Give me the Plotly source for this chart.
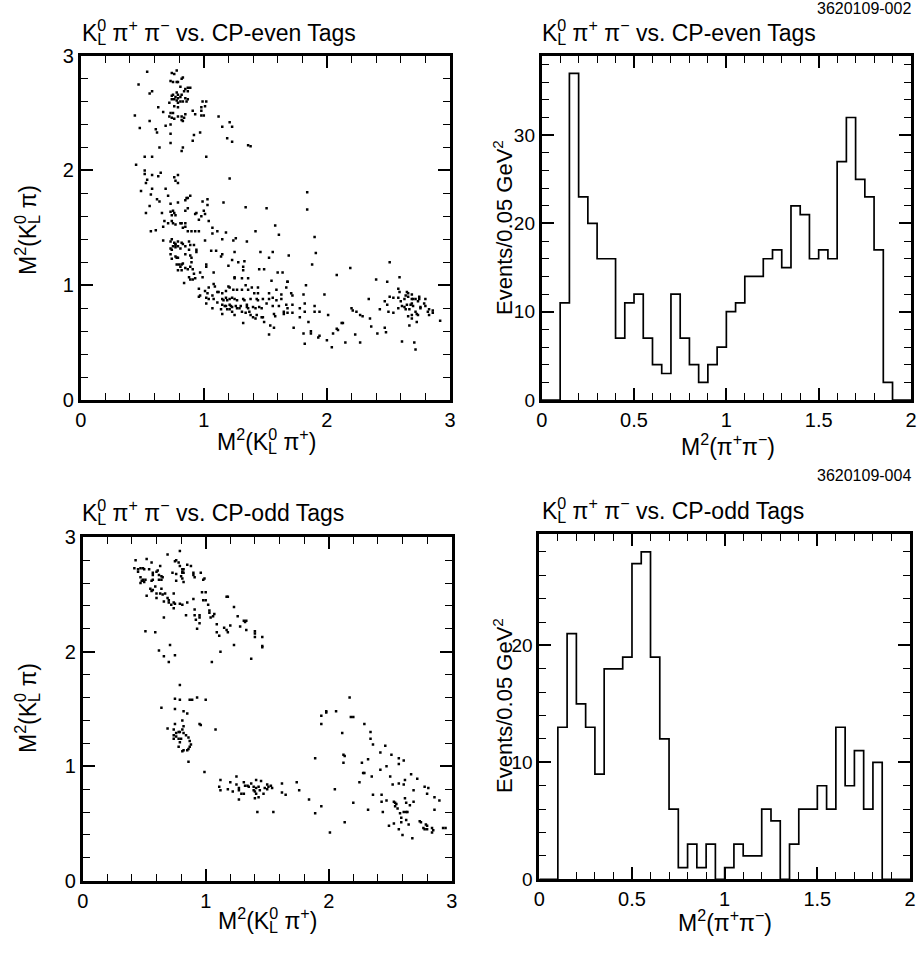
import plotly.graph_objects as go

# ---------------- data ----------------
# Histogram bins: 0.05 GeV^2 wide, from 0 to 2
bin_width = 0.05
even_counts = [0, 0, 11, 37, 23, 20, 16, 16, 7, 11, 12, 7, 4, 3, 12, 7, 4, 2, 4, 6,
               10, 11, 14, 14, 16, 17, 15, 22, 21, 16, 17, 16, 27, 32, 25, 23, 17, 2, 0, 0]
odd_counts = [0, 0, 13, 21, 15, 13, 9, 18, 18, 19, 27, 28, 19, 12, 6, 1, 3, 1, 3, 0,
              1, 3, 2, 2, 6, 5, 0, 3, 6, 6, 8, 6, 13, 8, 11, 6, 10, 0, 0, 0]

even_dalitz_x = [
 0.54,0.47,0.74,0.76,0.78,0.73,0.75,0.78,0.79,0.82,0.83,0.81,0.85,0.87,0.89,0.87,0.84,0.58,0.56,0.78,
 0.79,0.75,0.74,0.77,0.81,0.82,0.79,0.76,0.74,0.85,0.87,0.86,0.83,0.81,0.78,0.79,0.63,0.72,0.76,0.79,
 0.67,0.99,1.02,1.01,0.98,0.73,0.75,0.72,0.74,0.76,0.79,0.82,0.84,0.82,0.83,0.85,0.91,0.93,0.98,0.98,
 1.00,0.44,0.56,0.48,0.61,0.62,0.69,0.73,0.73,0.92,0.91,0.97,1.12,1.15,1.21,1.23,1.19,1.23,1.36,1.38,
 0.73,0.64,0.83,0.82,1.02,0.52,0.58,0.45,1.21,0.52,0.52,0.58,0.63,0.65,0.54,0.53,0.76,0.79,0.77,0.79,
 0.49,0.58,0.57,0.69,0.71,0.62,0.64,0.73,0.79,0.56,0.53,0.86,0.87,0.89,0.85,0.87,0.85,0.99,1.03,1.03,
 1.00,1.16,1.34,0.66,0.73,0.75,0.76,0.74,0.77,0.94,0.93,0.98,1.01,0.96,0.68,0.71,0.74,0.75,0.77,0.81,
 0.82,0.85,0.85,0.83,0.87,0.57,0.61,0.67,0.90,0.93,0.96,0.67,0.74,0.73,0.76,0.77,0.79,0.82,0.83,0.77,
 0.75,0.73,0.74,0.77,0.79,0.81,0.85,0.88,0.89,0.92,0.88,0.94,0.94,0.73,0.74,0.77,0.78,0.79,0.85,0.89,
 0.90,0.78,0.80,0.82,0.83,0.81,0.82,0.85,0.87,0.89,0.79,0.88,0.89,0.91,0.93,0.92,0.84,0.90,0.91,0.96,
 0.96,1.84,1.51,1.84,
 1.04,1.07,1.11,1.07,1.18,1.01,1.15,1.24,1.26,1.42,1.58,1.61,1.35,1.06,1.10,1.15,1.14,1.25,1.46,1.56,
 1.69,1.90,1.91,1.88,1.23,1.28,1.33,1.20,1.02,1.02,1.08,1.32,1.32,1.45,1.49,1.53,0.97,0.99,1.25,1.25,
 1.31,1.36,1.60,1.64,1.55,1.68,2.08,2.19,2.40,2.51,2.49,2.59,1.83,1.98,2.34,
 1.04,1.08,1.09,1.01,1.03,1.07,1.11,1.12,1.15,1.18,1.20,1.21,1.24,1.27,1.31,1.34,1.36,1.39,1.44,1.41,
 1.44,1.53,1.56,1.59,1.63,1.67,1.68,1.71,1.72,1.81,0.97,1.02,1.04,1.08,1.15,1.16,1.18,1.19,1.21,1.23,
 1.25,1.27,1.32,1.33,1.38,1.43,1.44,1.48,1.53,1.59,1.63,1.02,1.11,1.15,1.17,1.18,1.21,1.22,1.23,1.26,
 1.27,1.30,1.35,1.35,1.36,1.40,1.42,1.45,1.47,1.51,1.56,1.61,1.67,1.68,1.72,1.78,1.82,1.90,1.90,1.94,
 1.07,1.14,1.15,1.19,1.21,1.23,1.25,1.29,1.31,1.34,1.37,1.38,1.40,1.42,1.43,1.47,1.48,1.57,1.58,1.65,
 1.65,1.68,1.72,1.78,1.82,1.32,1.49,1.54,1.57,1.53,1.73,1.85,1.81,1.87,1.87,1.82,1.93,1.94,2.01,2.00,
 2.04,2.05,2.08,2.09,2.12,2.13,2.15,2.21,2.20,2.24,2.23,2.27,2.29,2.27,2.35,2.36,2.41,2.43,2.47,2.48,
 2.47,2.49,2.50,2.51,2.54,2.54,2.58,2.58,2.59,2.60,2.61,2.58,2.61,2.63,2.63,2.64,2.64,2.65,2.66,2.66,
 2.66,2.67,2.68,2.67,2.69,2.69,2.70,2.70,2.72,2.72,2.73,2.74,2.73,2.75,2.75,2.76,2.71,2.72,2.69,2.69,
 2.76,2.79,2.80,2.80,2.82,2.83,2.83,2.86,2.86,2.92,2.69,2.65,2.74]
even_dalitz_y = [
 2.86,2.75,2.85,2.84,2.87,2.78,2.77,2.77,2.77,2.80,2.81,2.73,2.71,2.72,2.72,2.69,2.69,2.69,2.67,2.68,
 2.66,2.66,2.65,2.64,2.64,2.66,2.63,2.62,2.62,2.63,2.62,2.60,2.60,2.60,2.61,2.59,2.55,2.59,2.56,2.55,
 2.51,2.60,2.60,2.56,2.55,2.50,2.50,2.47,2.46,2.45,2.47,2.47,2.46,2.44,2.43,2.49,2.52,2.49,2.52,2.48,
 2.48,2.48,2.43,2.37,2.36,2.33,2.39,2.40,2.32,2.31,2.26,2.33,2.47,2.38,2.42,2.38,2.28,2.25,2.22,2.21,
 2.24,2.20,2.20,2.17,2.12,2.12,2.12,2.05,1.93,2.00,1.97,1.96,1.95,1.98,1.92,1.89,1.94,1.96,1.91,1.89,
 1.82,1.84,1.79,1.84,1.78,1.75,1.73,1.71,1.72,1.69,1.63,1.76,1.76,1.78,1.74,1.67,1.65,1.73,1.75,1.70,
 1.65,1.72,1.68,1.63,1.64,1.65,1.63,1.61,1.61,1.63,1.62,1.60,1.62,1.57,1.56,1.54,1.56,1.54,1.53,1.54,
 1.54,1.54,1.51,1.50,1.47,1.47,1.48,1.51,1.47,1.47,1.47,1.39,1.40,1.38,1.37,1.36,1.38,1.37,1.36,1.35,
 1.34,1.32,1.31,1.33,1.34,1.32,1.34,1.38,1.35,1.35,1.31,1.31,1.29,1.27,1.23,1.25,1.24,1.24,1.27,1.26,
 1.24,1.18,1.18,1.18,1.19,1.16,1.13,1.15,1.14,1.16,1.13,1.07,1.05,1.05,1.06,1.10,1.02,1.20,1.14,0.97,
 0.90,1.81,1.67,1.66,
 1.56,1.50,1.47,1.45,1.46,1.39,1.40,1.39,1.41,1.47,1.52,1.44,1.38,1.30,1.30,1.27,1.25,1.29,1.29,1.29,
 1.26,1.42,1.28,1.18,1.22,1.20,1.21,1.17,1.18,1.16,1.11,1.16,1.13,1.14,1.14,1.24,1.11,1.07,1.06,1.07,
 1.06,1.06,1.11,1.11,1.04,1.03,1.09,1.15,1.05,1.20,1.03,1.07,1.00,0.92,0.88,
 0.98,1.01,0.99,0.95,0.93,0.91,0.94,0.94,0.93,0.95,0.99,0.98,0.96,0.96,0.96,1.00,0.96,0.98,0.98,0.93,
 0.93,0.93,0.89,0.96,0.92,0.98,1.03,0.93,0.91,0.92,0.91,0.89,0.88,0.88,0.88,0.87,0.89,0.87,0.88,0.89,
 0.88,0.87,0.88,0.87,0.88,0.88,0.87,0.88,0.88,0.87,0.88,0.84,0.85,0.83,0.82,0.82,0.83,0.82,0.81,0.82,
 0.80,0.82,0.83,0.81,0.80,0.81,0.80,0.81,0.80,0.84,0.82,0.82,0.83,0.80,0.83,0.80,0.84,0.82,0.77,0.77,
 0.80,0.79,0.75,0.79,0.79,0.77,0.74,0.80,0.77,0.76,0.77,0.74,0.72,0.71,0.74,0.72,0.72,0.75,0.73,0.77,
 0.75,0.76,0.76,0.72,0.77,0.67,0.68,0.65,0.63,0.57,0.63,0.68,0.58,0.60,0.58,0.49,0.545,0.56,0.74,0.52,
 0.46,0.58,0.62,0.61,0.67,0.67,0.50,0.78,0.80,0.77,0.57,0.74,0.73,0.50,0.71,0.64,0.58,0.79,0.63,0.59,
 0.86,0.83,0.77,0.90,0.76,0.89,0.89,0.97,0.94,0.86,0.82,0.80,0.51,0.88,0.81,0.79,0.91,0.94,0.90,0.93,
 0.73,0.65,0.83,0.79,0.92,0.88,0.88,0.82,0.88,0.77,0.75,0.74,0.68,0.88,0.90,0.81,0.50,0.44,0.71,0.74,
 0.80,0.84,0.82,0.88,0.77,0.79,0.74,0.78,0.76,0.69,0.84,0.83,0.86]

odd_dalitz_x = [
 0.43,0.52,0.42,0.45,0.47,0.49,0.50,0.45,0.56,0.54,0.57,0.60,0.61,0.63,0.57,0.62,0.64,0.65,0.47,0.49,
 0.51,0.48,0.47,0.50,0.56,0.57,0.62,0.64,0.59,0.55,0.57,0.56,0.64,0.60,0.63,0.65,0.67,0.52,0.60,0.66,
 0.69,0.70,0.70,0.72,0.74,0.74,0.69,0.79,0.75,0.76,0.78,0.79,0.81,0.82,0.81,0.81,0.82,0.85,0.88,0.73,
 0.76,0.80,0.81,0.82,0.76,0.90,0.90,0.91,0.96,0.98,0.99,0.74,0.75,0.79,0.81,0.85,0.90,0.97,1.00,0.98,
 1.00,1.02,1.03,1.03,1.04,1.06,1.07,0.91,0.84,0.91,0.95,0.95,0.92,0.95,0.93,0.66,0.51,0.59,1.09,1.09,
 1.11,1.15,1.17,1.18,1.17,1.18,1.23,1.26,1.20,1.28,1.31,1.32,1.33,1.33,1.40,1.40,1.40,1.46,1.46,1.46,
 1.23,1.12,1.37,1.05,0.62,0.66,0.71,0.75,0.70,0.79,0.75,0.79,0.87,0.89,0.93,1.00,0.64,0.75,0.82,0.85,
 0.69,0.75,0.81,0.82,0.74,0.76,0.78,0.79,0.74,0.74,0.76,0.81,0.82,0.84,0.78,0.79,0.80,0.86,0.87,0.88,
 0.87,0.78,0.81,0.82,0.85,0.86,0.86,0.95,0.96,1.08,0.99,
 1.12,1.11,1.12,1.18,1.20,1.22,1.25,1.25,1.27,1.27,1.27,1.29,1.31,1.31,1.32,1.34,1.35,1.37,1.39,1.41,
 1.41,1.39,1.40,1.41,1.40,1.43,1.43,1.45,1.44,1.47,1.48,1.50,1.50,1.51,1.53,1.54,1.42,1.55,1.62,1.62,
 1.65,1.74,1.76,1.84,
 1.94,1.94,1.98,1.98,2.06,2.17,2.18,2.20,2.29,2.34,2.34,2.36,2.11,2.12,2.13,2.12,1.89,2.05,1.94,1.89,
 2.01,2.13,2.20,2.25,2.28,2.29,2.27,2.32,2.32,2.36,2.35,2.42,2.46,2.42,2.47,2.43,2.43,2.44,2.47,2.49,
 2.51,2.50,2.52,2.53,2.57,2.57,2.61,2.57,2.53,2.54,2.55,2.56,2.58,2.59,2.59,2.60,2.61,2.62,2.63,2.62,
 2.64,2.63,2.65,2.67,2.68,2.69,2.72,2.74,2.75,2.77,2.78,2.80,2.79,2.80,2.84,2.85,2.84,2.78,2.81,2.80,
 2.86,2.90,2.86,2.93,2.95,2.61,2.69,2.66,2.57,2.54,2.63]
odd_dalitz_y = [
 2.80,2.81,2.73,2.72,2.73,2.73,2.72,2.70,2.78,2.72,2.69,2.70,2.71,2.75,2.67,2.67,2.66,2.65,2.65,2.63,
 2.63,2.62,2.60,2.61,2.62,2.63,2.63,2.63,2.57,2.55,2.54,2.53,2.55,2.51,2.51,2.50,2.51,2.49,2.47,2.44,
 2.47,2.45,2.43,2.41,2.38,2.51,2.85,2.88,2.79,2.80,2.78,2.75,2.72,2.72,2.70,2.69,2.69,2.76,2.75,2.69,
 2.68,2.66,2.64,2.61,2.62,2.69,2.67,2.65,2.69,2.63,2.64,2.43,2.42,2.42,2.41,2.43,2.46,2.52,2.52,2.45,
 2.45,2.41,2.36,2.34,2.30,2.31,2.33,2.37,2.32,2.32,2.32,2.30,2.28,2.25,2.20,2.30,2.18,2.17,2.24,2.17,
 2.14,2.21,2.19,2.17,2.48,2.48,2.39,2.31,2.23,2.22,2.27,2.26,2.27,2.19,2.18,2.16,2.13,2.13,2.05,2.04,
 2.06,2.00,1.94,1.91,2.01,1.96,2.06,1.97,1.91,1.71,1.59,1.58,1.58,1.58,1.60,1.58,1.51,1.50,1.48,1.46,
 1.33,1.37,1.40,1.35,1.32,1.29,1.30,1.30,1.27,1.24,1.26,1.32,1.29,1.27,1.24,1.21,1.24,1.25,1.22,1.19,
 1.17,1.17,1.13,1.14,1.14,1.15,1.04,1.37,1.36,1.32,0.95,
 0.88,0.82,0.79,0.80,0.86,0.78,0.91,0.84,0.81,0.79,0.71,0.76,0.76,0.86,0.83,0.83,0.82,0.85,0.82,0.88,
 0.81,0.79,0.78,0.76,0.72,0.73,0.82,0.87,0.79,0.76,0.81,0.84,0.80,0.82,0.83,0.81,0.60,0.60,0.85,0.77,
 0.75,0.86,0.79,0.71,
 1.37,1.44,1.47,1.48,1.48,1.60,1.43,1.43,1.37,1.30,1.24,1.19,1.29,1.10,1.09,1.03,1.07,0.80,0.65,0.59,
 0.42,0.51,0.68,0.86,0.94,0.94,1.03,1.06,0.62,0.75,0.91,1.12,1.18,0.97,1.00,0.75,0.69,0.60,0.70,0.48,
 1.10,0.91,0.84,0.50,0.45,1.07,1.05,1.02,0.69,0.68,0.67,0.63,0.59,0.55,0.51,0.40,0.84,0.88,0.68,0.72,
 0.60,0.53,0.49,0.93,0.37,0.69,0.89,0.52,0.51,0.46,0.45,0.45,0.49,0.48,0.46,0.44,0.42,0.82,0.81,0.76,
 0.73,0.70,0.62,0.46,0.46,0.60,0.79,0.66,0.85,0.65,0.60]

# ---------------- figure ----------------
FONT = "Liberation Sans, Arial, Helvetica, sans-serif"
W, H = 918, 961

def px_x(p):
    return p / W

def px_y(p):
    return 1 - p / H

# K^0_L with the 0 stacked above the L
KL = "K<sup><span style='letter-spacing:-0.56em'>0</span></sup><sub>L</sub>"

fig = go.Figure()

def step_xy(counts):
    xs, ys = [], []
    for i, c in enumerate(counts):
        xs += [i * bin_width, (i + 1) * bin_width]
        ys += [c, c]
    return xs, ys

ex, ey = step_xy(even_counts)
ox, oy = step_xy(odd_counts)

marker = dict(symbol="square", size=2.5, color="black", line=dict(width=0))
fig.add_trace(go.Scatter(x=even_dalitz_x, y=even_dalitz_y, mode="markers", marker=marker,
                         xaxis="x", yaxis="y", showlegend=False, hoverinfo="skip"))
fig.add_trace(go.Scatter(x=ex, y=ey, mode="lines", line=dict(color="black", width=1.7),
                         xaxis="x2", yaxis="y2", showlegend=False, hoverinfo="skip"))
fig.add_trace(go.Scatter(x=odd_dalitz_x, y=odd_dalitz_y, mode="markers", marker=marker,
                         xaxis="x3", yaxis="y3", showlegend=False, hoverinfo="skip"))
fig.add_trace(go.Scatter(x=ox, y=oy, mode="lines", line=dict(color="black", width=1.7),
                         xaxis="x4", yaxis="y4", showlegend=False, hoverinfo="skip"))

d_tl_x = [px_x(80.7), px_x(450)]
d_t_y = [px_y(400), px_y(55.7)]
d_tr_x = [px_x(541.7), px_x(911)]
d_bl_x = [px_x(82.7), px_x(451.7)]
d_bl_y = [px_y(880.7), px_y(537.3)]
d_br_x = [px_x(539.3), px_x(910)]
d_br_y = [px_y(879.3), px_y(534.3)]

# (x domain, y domain, x range, y range, x major, x minor, y major, y minor, x tick texts)
panels = [
    (d_tl_x, d_t_y, [0, 3], [0, 3], 1, 0.2, 1, 0.2, None),
    (d_tr_x, d_t_y, [0, 2], [0, 39], 0.5, 0.1, 10, 2, ["0", "0.5", "1", "1.5", "2"]),
    (d_bl_x, d_bl_y, [0, 3], [0, 3], 1, 0.2, 1, 0.2, None),
    (d_br_x, d_br_y, [0, 2], [0, 29.5], 0.5, 0.1, 10, 2, ["0", "0.5", "1", "1.5", "2"]),
]

layout_axes = {}
for i, (dx, dy, rx, ry, mx, mnx, my, mny, xtt) in enumerate(panels):
    n = i + 1
    sfx = "" if n == 1 else str(n)
    base = dict(showgrid=False, zeroline=False, showline=True, linecolor="black",
                linewidth=2.8, mirror="ticks", ticks="inside", ticklen=12,
                tickwidth=1.5, tickcolor="black", tick0=0, fixedrange=True,
                automargin=False,
                tickfont=dict(family=FONT, size=20, color="black"))
    xa = dict(base, domain=dx, range=rx, anchor="y" + sfx, dtick=mx,
              minor=dict(ticks="inside", ticklen=7, tickwidth=1.2, tickcolor="black",
                         dtick=mnx, tick0=0, showgrid=False))
    if xtt is not None:
        xa.update(tickmode="array", tickvals=[k * mx for k in range(len(xtt))], ticktext=xtt)
    ya = dict(base, domain=dy, range=ry, anchor="x" + sfx, dtick=my,
              minor=dict(ticks="inside", ticklen=7, tickwidth=1.2, tickcolor="black",
                         dtick=mny, tick0=0, showgrid=False))
    if n in (2, 4):
        ya["tickfont"] = dict(family=FONT, size=19, color="black")
    layout_axes["xaxis" + sfx] = xa
    layout_axes["yaxis" + sfx] = ya

fig.update_layout(
    template="none",
    width=W, height=H, margin=dict(l=0, r=0, t=0, b=0, pad=0), autosize=False,
    paper_bgcolor="white", plot_bgcolor="white", showlegend=False,
    font=dict(family=FONT, color="black"),
    **layout_axes,
)

ann = []
def text(x, y, s, size=20, xanchor="left", yanchor="middle", angle=0):
    ann.append(dict(x=px_x(x), y=px_y(y), xref="paper", yref="paper", text=s, showarrow=False,
                    xanchor=xanchor, yanchor=yanchor, textangle=angle,
                    font=dict(family=FONT, size=size, color="black")))

title_even = KL + " π<sup>+</sup> π<sup>−</sup> vs. CP-even Tags"
title_odd = KL + " π<sup>+</sup> π<sup>−</sup> vs. CP-odd Tags"
text(80, 32, title_even, size=23)
text(540, 32, title_even, size=23)
text(80, 512, title_odd, size=23)
text(540, 510, title_odd, size=23)
text(913, 8, "3620109-002", size=16, xanchor="right")
text(913, 476, "3620109-004", size=16, xanchor="right")

xt_kpi = "M<sup>2</sup>(" + KL + " π<sup>+</sup>)"
yt_kpi = "M<sup>2</sup>(" + KL + " π)"
xt_pipi = "M<sup>2</sup>(π<sup>+</sup>π<sup>−</sup>)"
yt_ev = "Events/0.05 GeV<sup>2</sup>"
text(266, 441, xt_kpi, size=23, xanchor="center")
text(728, 445, xt_pipi, size=23, xanchor="center")
text(267, 920, xt_kpi, size=23, xanchor="center")
text(725, 921, xt_pipi, size=23, xanchor="center")
text(27, 230, yt_kpi, size=23, xanchor="center", angle=-90)
text(27, 708, yt_kpi, size=23, xanchor="center", angle=-90)
text(503, 228, yt_ev, size=22, xanchor="center", angle=-90)
text(503, 706, yt_ev, size=22, xanchor="center", angle=-90)

fig.update_layout(annotations=ann)
fig.write_html("out.html")
